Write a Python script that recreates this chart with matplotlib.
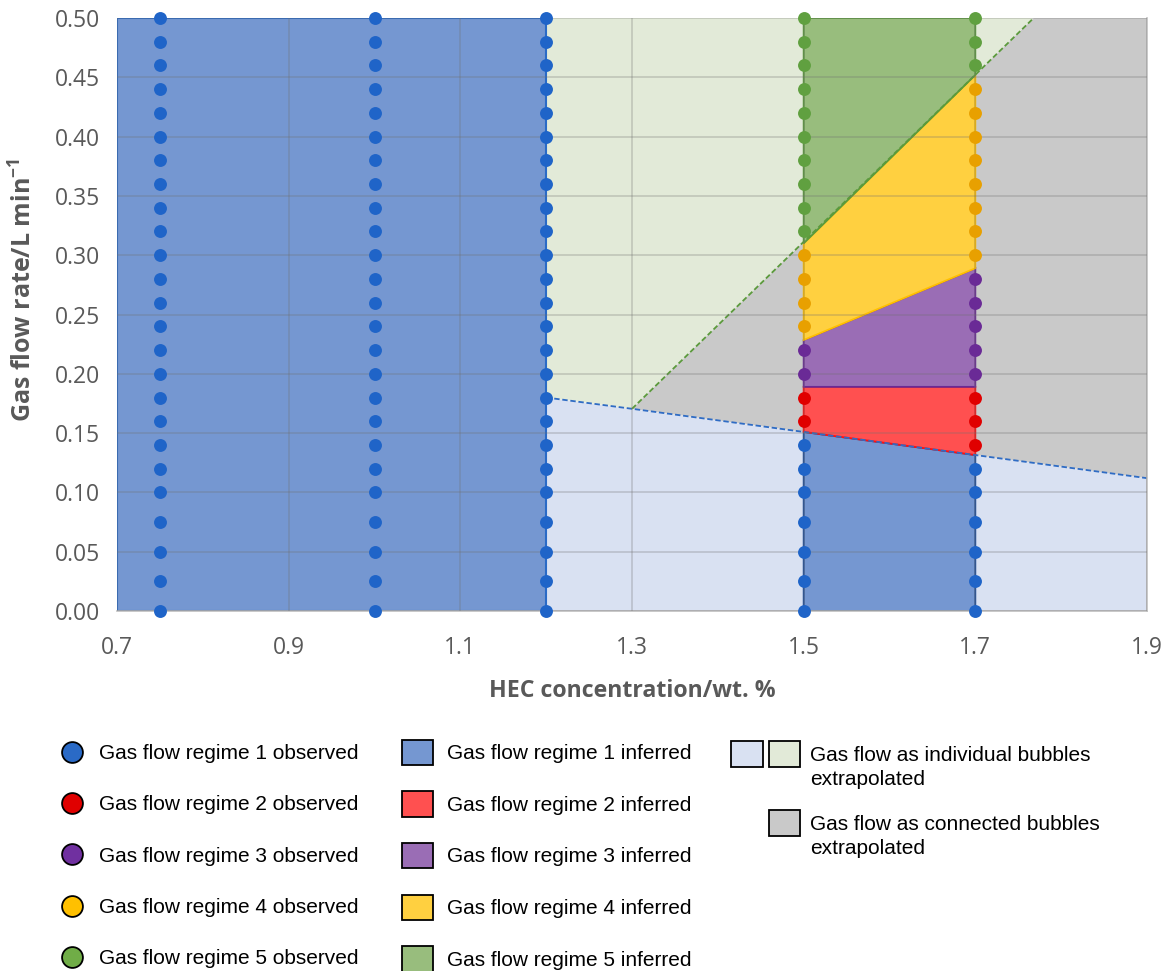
import numpy as np
import matplotlib
matplotlib.use("Agg")
import matplotlib.pyplot as plt
from matplotlib.lines import Line2D
from matplotlib.patches import Patch
from matplotlib.legend_handler import HandlerTuple

# HEC concentrations tested (wt. %)
conc = [0.75, 1.0, 1.2, 1.5, 1.7]
# gas flow rates tested (L/min)
flow = [0.00, 0.025, 0.05, 0.075, 0.10, 0.12, 0.14, 0.16, 0.18, 0.20, 0.22, 0.24, 0.26,
        0.28, 0.30, 0.32, 0.34, 0.36, 0.38, 0.40, 0.42, 0.44, 0.46, 0.48, 0.50]
# observed regime for each flow rate (same order as flow)
regime_075 = [1, 1, 1, 1, 1, 1, 1, 1, 1, 1, 1, 1, 1, 1, 1, 1, 1, 1, 1, 1, 1, 1, 1, 1, 1]
regime_100 = [1, 1, 1, 1, 1, 1, 1, 1, 1, 1, 1, 1, 1, 1, 1, 1, 1, 1, 1, 1, 1, 1, 1, 1, 1]
regime_120 = [1, 1, 1, 1, 1, 1, 1, 1, 1, 1, 1, 1, 1, 1, 1, 1, 1, 1, 1, 1, 1, 1, 1, 1, 1]
regime_150 = [1, 1, 1, 1, 1, 1, 1, 2, 2, 3, 3, 4, 4, 4, 4, 5, 5, 5, 5, 5, 5, 5, 5, 5, 5]
regime_170 = [1, 1, 1, 1, 1, 1, 2, 2, 2, 3, 3, 3, 3, 3, 4, 4, 4, 4, 4, 4, 4, 4, 5, 5, 5]
regimes = [regime_075, regime_100, regime_120, regime_150, regime_170]

# inferred regime boundaries between 1.5 and 1.7 wt. %
bound_x = [1.5, 1.7]
b12 = [0.151, 0.1315]
b23 = [0.189, 0.189]
b34 = [0.2285, 0.289]
b45 = [0.310, 0.452]
# regime 1 block at low concentration
block_x = [0.7, 1.2]
# extrapolated lines
indiv_x = [1.2, 1.3, 1.9]
indiv_y = [0.180, 0.1705, 0.112]
conn_x = [1.3, 1.768]
conn_y = [0.1705, 0.50]

xmin, xmax, ymin, ymax = 0.7, 1.9, 0.0, 0.5

obs_col = {1: '#1f64c8', 2: '#e00000', 3: '#6a2a96', 4: '#e8a000', 5: '#60a040'}
leg_col = {1: '#2a6ac6', 2: '#e00000', 3: '#7030a0', 4: '#ffc000', 5: '#70ad47'}
fill_col = {1: '#7597d1', 2: '#ff5050', 3: '#9a6db5', 4: '#ffd040', 5: '#98bd7d'}
edge_col = {1: '#1f4e9a', 2: '#ff1010', 3: '#6a2a96', 4: '#ffc000', 5: '#5b9a3c'}
c_lblue = '#d9e1f2'
c_lgreen = '#e2ead8'
c_gray = '#c9c9c9'
txt_gray = '#595959'

plt.rcParams['mathtext.fontset'] = 'custom'
plt.rcParams['mathtext.rm'] = 'Open Sans'
plt.rcParams['mathtext.bf'] = 'Open Sans:bold'

fig = plt.figure(figsize=(11.71, 9.71), dpi=100)
ax = fig.add_axes([117/1171, 1-611/971, (1147-117)/1171, (611-18)/971])

# background regions
ax.fill([indiv_x[0], indiv_x[2], indiv_x[2], indiv_x[0]],
        [ymin, ymin, indiv_y[2], indiv_y[0]], color=c_lblue, lw=0, zorder=1)
ax.fill([indiv_x[0], indiv_x[1], conn_x[1], indiv_x[0]],
        [indiv_y[0], indiv_y[1], conn_y[1], ymax], color=c_lgreen, lw=0, zorder=1)
ax.fill([indiv_x[1], indiv_x[2], indiv_x[2], conn_x[1]],
        [indiv_y[1], indiv_y[2], ymax, conn_y[1]], color=c_gray, lw=0, zorder=1)

# regime 1 block
ax.fill([block_x[0], block_x[1], block_x[1], block_x[0]], [ymin, ymin, ymax, ymax],
        facecolor=fill_col[1], edgecolor='#2a6ac6', lw=1.5, zorder=1.5)

# inferred regimes between 1.5 and 1.7
x0, x1 = bound_x
layers = [([ymin, ymin], b12), (b12, b23), (b23, b34), (b34, b45), (b45, [ymax, ymax])]
for r, (lo, hi) in enumerate(layers, start=1):
    ax.fill([x0, x1, x1, x0], [lo[0], lo[1], hi[1], hi[0]],
            facecolor=fill_col[r], edgecolor=edge_col[r], lw=1.3, zorder=1.5)

ax.plot(indiv_x, indiv_y, ls=(0, (3, 1.5)), color='#2f6cc4', lw=1.3, zorder=2.5)
ax.plot(conn_x, conn_y, ls=(0, (3, 1.5)), color='#5b9a3c', lw=1.3, zorder=2.5)

# grid
ax.set_axisbelow(False)
ax.grid(True, color='#707070', alpha=0.3, lw=1.2, zorder=2)

# observed points
for c, reg in zip(conc, regimes):
    for f, r in zip(flow, reg):
        ax.plot(c, f, 'o', ms=9.3, color=obs_col[r], mec='none', zorder=4, clip_on=False)

ax.set_xlim(xmin, xmax)
ax.set_ylim(ymin, ymax)
ax.set_xticks([0.7, 0.9, 1.1, 1.3, 1.5, 1.7, 1.9])
ax.set_yticks(np.arange(0, 0.51, 0.05))
ax.set_xticklabels(['0.7', '0.9', '1.1', '1.3', '1.5', '1.7', '1.9'])
ax.set_yticklabels(['%.2f' % v for v in np.arange(0, 0.51, 0.05)])
ax.tick_params(length=0, labelsize=16.5, labelcolor=txt_gray)
ax.tick_params(axis='x', pad=18)
ax.tick_params(axis='y', pad=12)
for lab in ax.get_xticklabels() + ax.get_yticklabels():
    lab.set_fontfamily('Open Sans')
for s in ['top', 'left']:
    ax.spines[s].set_visible(False)
for s in ['bottom', 'right']:
    ax.spines[s].set_color('#bfbfbf')
    ax.spines[s].set_linewidth(1.2)

ax.set_xlabel('HEC concentration/wt. %', fontsize=16.7, fontweight='bold',
              color=txt_gray, family='Open Sans', labelpad=14)
ax.set_ylabel(r'Gas flow rate/L min$^{\mathbf{-1}}$', fontsize=18, fontweight='bold',
              color=txt_gray, family='Open Sans')
ax.yaxis.set_label_coords((38 - 117) / 1030, (611 - 290) / 593)

# legends
lfont = {'family': 'Liberation Sans', 'size': 15}
fs_px = 15 * 100 / 72
h_obs = [Line2D([], [], ls='none', marker='o', ms=15, mfc=leg_col[r], mec='black', mew=1.3)
         for r in range(1, 6)]
l_obs = ['Gas flow regime %d observed' % r for r in range(1, 6)]
h_inf = [Patch(facecolor=fill_col[r], edgecolor='black', lw=1.3) for r in range(1, 6)]
l_inf = ['Gas flow regime %d inferred' % r for r in range(1, 6)]

def px(x, y):
    return (x / 1171, 1 - y / 971)

leg1 = fig.legend(h_obs, l_obs, loc='upper left', bbox_to_anchor=px(59.5, 744),
                  frameon=False, prop=lfont, handlelength=1.2, handletextpad=0.7,
                  labelspacing=1.55, borderpad=0, borderaxespad=0)
leg2 = fig.legend(h_inf, l_inf, loc='upper left', bbox_to_anchor=px(402, 739.5),
                  frameon=False, prop=lfont, handlelength=1.49, handleheight=1.49,
                  handletextpad=0.67, labelspacing=1.27, borderpad=0, borderaxespad=0)
h_ext = [(Patch(facecolor=c_lblue, edgecolor='black', lw=1.3),
          Patch(facecolor=c_lgreen, edgecolor='black', lw=1.3)),
         (Patch(facecolor='none', edgecolor='none'),
          Patch(facecolor=c_gray, edgecolor='black', lw=1.3))]
l_ext = ['Gas flow as individual bubbles', 'Gas flow as connected bubbles']
leg3 = fig.legend(h_ext, l_ext, loc='upper left', bbox_to_anchor=px(731, 741),
                  frameon=False, prop=lfont, handlelength=69 / fs_px, handleheight=32 / fs_px,
                  handletextpad=0.48, labelspacing=2.06, borderpad=0, borderaxespad=0,
                  handler_map={tuple: HandlerTuple(ndivide=None, pad=6 / fs_px)})
for t in leg1.get_texts() + leg2.get_texts() + leg3.get_texts():
    t.set_color('black')
# second line of the two-line entries
for ty in [779, 848]:
    fig.text(810 / 1171, 1 - ty / 971, 'extrapolated', fontdict=lfont, va='center', ha='left')

fig.savefig('out.png', dpi=100)
